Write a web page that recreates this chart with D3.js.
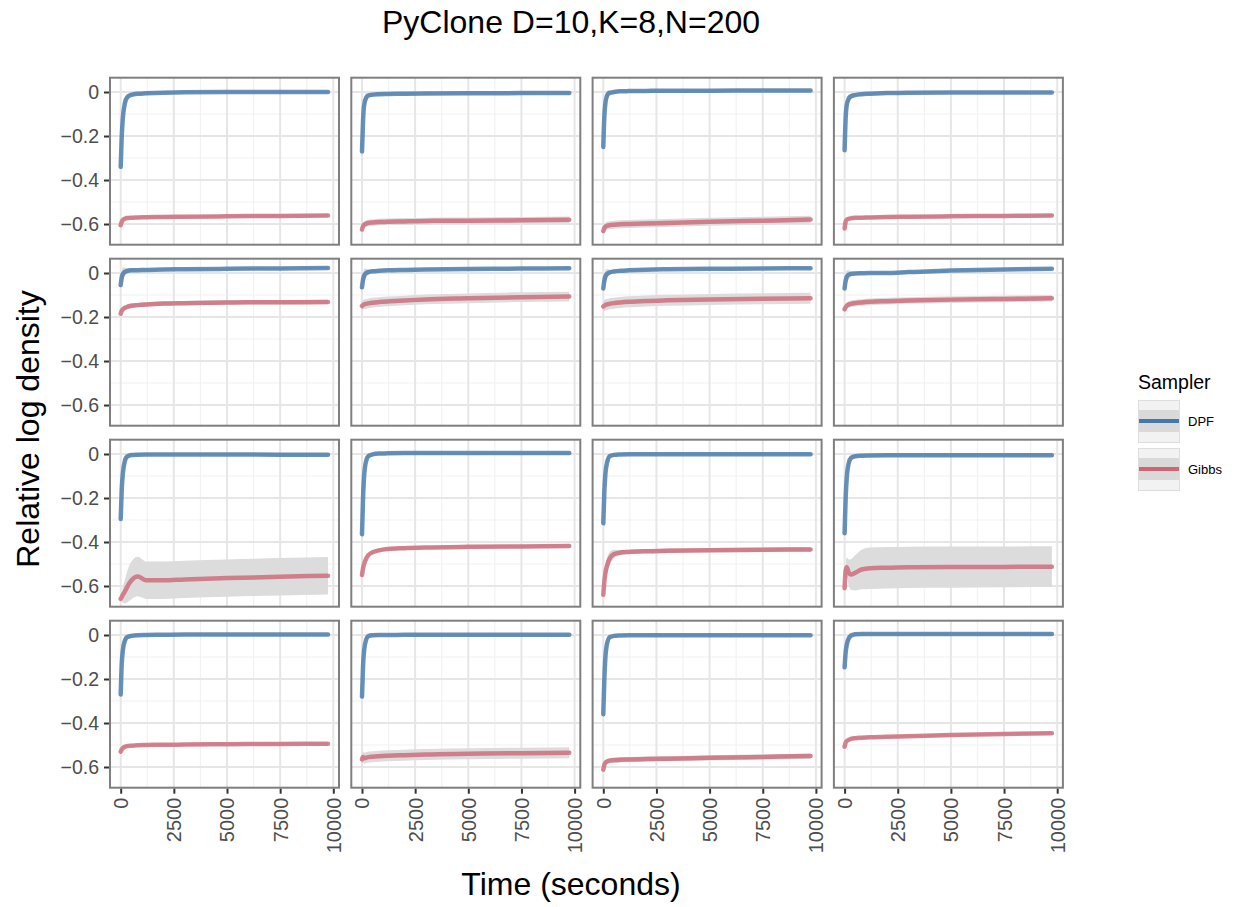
<!DOCTYPE html>
<html>
<head>
<meta charset="utf-8">
<script src="https://cdn.jsdelivr.net/npm/d3@7"></script>
<style>
  body { margin: 0; background: #fff; }
  svg { font-family: 'Liberation Sans', Arial, Helvetica, sans-serif; }
</style>
</head>
<body>
<script>
// time points (seconds) shared by every panel
const times = [0, 50, 100, 200, 300, 500, 800, 1200, 2000, 3000, 5000, 7500, 9750];

// mean relative log density, one row per panel (4x4, row-major)
const dpfMean = [
  [-0.34, -0.2, -0.12, -0.05, -0.025, -0.013, -0.008, -0.006, -0.003, -0.001, 0, 0, 0],
  [-0.27, -0.13, -0.06, -0.025, -0.016, -0.012, -0.01, -0.009, -0.008, -0.007, -0.006, -0.005, -0.004],
  [-0.25, -0.11, -0.05, -0.012, -0.004, 0, 0.003, 0.004, 0.005, 0.006, 0.006, 0.007, 0.007],
  [-0.265, -0.12, -0.06, -0.03, -0.02, -0.014, -0.01, -0.008, -0.005, -0.003, -0.002, -0.002, -0.002],
  [-0.055, -0.02, -0.005, 0.005, 0.009, 0.012, 0.013, 0.014, 0.016, 0.017, 0.019, 0.021, 0.023],
  [-0.065, -0.03, -0.012, 0, 0.004, 0.008, 0.01, 0.012, 0.014, 0.016, 0.018, 0.02, 0.022],
  [-0.07, -0.035, -0.015, -0.002, 0.003, 0.007, 0.01, 0.012, 0.015, 0.017, 0.019, 0.021, 0.022],
  [-0.07, -0.035, -0.018, -0.007, -0.004, -0.002, -0.001, 0, 0, 0.004, 0.011, 0.016, 0.019],
  [-0.295, -0.16, -0.09, -0.03, -0.012, -0.005, -0.003, -0.002, -0.002, -0.002, -0.002, -0.003, -0.003],
  [-0.365, -0.2, -0.1, -0.03, -0.01, -0.002, 0.002, 0.003, 0.004, 0.004, 0.004, 0.004, 0.004],
  [-0.315, -0.17, -0.09, -0.03, -0.01, -0.004, -0.002, -0.001, -0.001, -0.001, -0.001, -0.001, -0.001],
  [-0.36, -0.2, -0.11, -0.04, -0.018, -0.01, -0.008, -0.007, -0.006, -0.006, -0.006, -0.006, -0.006],
  [-0.27, -0.13, -0.07, -0.025, -0.01, -0.004, -0.001, 0, 0.001, 0.002, 0.002, 0.002, 0.002],
  [-0.28, -0.14, -0.07, -0.02, -0.005, -0.001, 0, 0, 0.001, 0.001, 0.001, 0.001, 0.001],
  [-0.36, -0.2, -0.1, -0.03, -0.01, -0.004, -0.002, -0.001, -0.001, -0.001, -0.001, -0.001, -0.001],
  [-0.147, -0.08, -0.045, -0.015, -0.003, 0.003, 0.005, 0.005, 0.005, 0.005, 0.005, 0.005, 0.005],
];

const gibbsMean = [
  [-0.605, -0.59, -0.582, -0.576, -0.573, -0.571, -0.57, -0.569, -0.568, -0.567, -0.565, -0.563, -0.561],
  [-0.625, -0.61, -0.603, -0.598, -0.595, -0.593, -0.591, -0.59, -0.588, -0.586, -0.585, -0.583, -0.581],
  [-0.632, -0.618, -0.612, -0.607, -0.605, -0.603, -0.601, -0.6, -0.598, -0.595, -0.59, -0.585, -0.58],
  [-0.62, -0.59, -0.58, -0.576, -0.574, -0.572, -0.571, -0.57, -0.568, -0.567, -0.565, -0.563, -0.561],
  [-0.185, -0.172, -0.165, -0.158, -0.154, -0.149, -0.146, -0.143, -0.139, -0.137, -0.134, -0.133, -0.132],
  [-0.15, -0.145, -0.142, -0.14, -0.138, -0.135, -0.132, -0.129, -0.125, -0.12, -0.115, -0.11, -0.107],
  [-0.152, -0.148, -0.145, -0.142, -0.14, -0.137, -0.134, -0.131, -0.127, -0.124, -0.12, -0.117, -0.115],
  [-0.165, -0.155, -0.149, -0.143, -0.14, -0.137, -0.134, -0.131, -0.128, -0.125, -0.121, -0.118, -0.115],
  [-0.658, -0.65, -0.64, -0.625, -0.605, -0.575, -0.557, -0.574, -0.574, -0.57, -0.564, -0.558, -0.553],
  [-0.55, -0.52, -0.5, -0.475, -0.46, -0.447, -0.438, -0.432, -0.428, -0.425, -0.422, -0.42, -0.418],
  [-0.64, -0.58, -0.54, -0.5, -0.475, -0.455, -0.448, -0.445, -0.442, -0.44, -0.437, -0.435, -0.434],
  [-0.61, -0.53, -0.515, -0.54, -0.548, -0.54, -0.525, -0.519, -0.517, -0.515, -0.514, -0.513, -0.512],
  [-0.53, -0.52, -0.514, -0.508, -0.505, -0.503, -0.501, -0.5, -0.499, -0.498, -0.496, -0.495, -0.494],
  [-0.565, -0.555, -0.56, -0.557, -0.555, -0.553, -0.551, -0.549, -0.546, -0.543, -0.54, -0.537, -0.535],
  [-0.612, -0.59, -0.58, -0.574, -0.571, -0.569, -0.567, -0.566, -0.564, -0.562, -0.558, -0.554, -0.55],
  [-0.508, -0.49, -0.482, -0.476, -0.472, -0.469, -0.467, -0.465, -0.463, -0.46, -0.455, -0.45, -0.446],
];

// half-width of the grey band around each Gibbs mean
const gibbsSpread = [
  [0.006, 0.007, 0.007, 0.007, 0.007, 0.007, 0.007, 0.007, 0.007, 0.007, 0.007, 0.007, 0.007],
  [0.01, 0.015, 0.015, 0.015, 0.015, 0.015, 0.015, 0.015, 0.015, 0.015, 0.015, 0.015, 0.015],
  [0.01, 0.018, 0.018, 0.018, 0.018, 0.018, 0.018, 0.018, 0.018, 0.018, 0.018, 0.018, 0.018],
  [0.006, 0.007, 0.007, 0.007, 0.007, 0.007, 0.007, 0.007, 0.007, 0.007, 0.007, 0.007, 0.007],
  [0.008, 0.01, 0.01, 0.01, 0.01, 0.01, 0.01, 0.01, 0.01, 0.01, 0.01, 0.01, 0.01],
  [0.02, 0.022, 0.022, 0.022, 0.022, 0.022, 0.022, 0.022, 0.022, 0.022, 0.022, 0.022, 0.022],
  [0.02, 0.025, 0.025, 0.025, 0.025, 0.025, 0.025, 0.025, 0.025, 0.025, 0.025, 0.025, 0.025],
  [0.012, 0.015, 0.015, 0.015, 0.015, 0.015, 0.015, 0.015, 0.015, 0.015, 0.015, 0.015, 0.015],
  [0.008, 0.02, 0.035, 0.055, 0.07, 0.085, 0.09, 0.085, 0.085, 0.085, 0.085, 0.085, 0.085],
  [0.008, 0.008, 0.008, 0.008, 0.008, 0.008, 0.008, 0.008, 0.008, 0.008, 0.008, 0.008, 0.008],
  [0.01, 0.03, 0.035, 0.035, 0.03, 0.02, 0.012, 0.01, 0.01, 0.01, 0.01, 0.01, 0.01],
  [0.01, 0.03, 0.045, 0.06, 0.07, 0.08, 0.09, 0.094, 0.094, 0.094, 0.094, 0.093, 0.093],
  [0.006, 0.006, 0.006, 0.006, 0.006, 0.006, 0.006, 0.006, 0.006, 0.006, 0.006, 0.006, 0.006],
  [0.025, 0.025, 0.025, 0.025, 0.025, 0.025, 0.025, 0.025, 0.025, 0.025, 0.025, 0.025, 0.025],
  [0.012, 0.012, 0.012, 0.012, 0.012, 0.012, 0.012, 0.012, 0.012, 0.012, 0.012, 0.012, 0.012],
  [0.006, 0.006, 0.006, 0.006, 0.006, 0.006, 0.006, 0.006, 0.006, 0.006, 0.006, 0.006, 0.006],
];

// half-width of the grey band around DPF (same shape in every panel)
const dpfSpread = [0.005, 0.025, 0.03, 0.02, 0.012, 0.008, 0.006, 0.005, 0.005, 0.005, 0.005, 0.005, 0.005];

const samplers = ['DPF', 'Gibbs'];
const xTicks = [0, 2500, 5000, 7500, 10000];
const xMinor = [1250, 3750, 6250, 8750];
const yTicks = [0, -0.2, -0.4, -0.6];
const yMinor = [-0.1, -0.3, -0.5];

const colors = { DPF: '#4477AA', Gibbs: '#CC6677' };

const PANEL_W = 229;
const PANEL_H = 167;
const PANEL_LEFT = 110;
const PANEL_TOP = 77.7;
const STEP_X = 241.3;
const STEP_Y = 181;

const svg = d3
  .select('body')
  .append('svg')
  .attr('width', 1244)
  .attr('height', 907);

const x = d3.scaleLinear().domain([-503, 10268]).range([0, PANEL_W]);
const y = d3.scaleLinear().domain([-0.694, 0.065]).range([PANEL_H, 0]);

const line = d3
  .line()
  .x((d, i) => x(times[i]))
  .y(d => y(d))
  .curve(d3.curveMonotoneX);

const band = d3
  .area()
  .x(d => x(d.t))
  .y0(d => y(d.lo))
  .y1(d => y(d.hi))
  .curve(d3.curveMonotoneX);

function bandData(mean, spread) {
  return times.map((t, i) => ({ t, lo: mean[i] - spread[i], hi: mean[i] + spread[i] }));
}

const fmtY = d => (d === 0 ? '0' : d3.format('.1f')(d));

d3.range(16).forEach(p => {
  const row = Math.floor(p / 4);
  const col = p % 4;
  const g = svg
    .append('g')
    .attr('transform', `translate(${PANEL_LEFT + col * STEP_X},${PANEL_TOP + row * STEP_Y})`);

  g.append('clipPath')
    .attr('id', `clip${p}`)
    .append('rect')
    .attr('width', PANEL_W)
    .attr('height', PANEL_H);

  // minor grid
  g.selectAll('.vminor')
    .data(xMinor)
    .enter()
    .append('line')
    .attr('x1', d => x(d))
    .attr('x2', d => x(d))
    .attr('y1', 0)
    .attr('y2', PANEL_H)
    .attr('stroke', '#f2f2f2')
    .attr('stroke-width', 1.2);
  g.selectAll('.hminor')
    .data(yMinor)
    .enter()
    .append('line')
    .attr('x1', 0)
    .attr('x2', PANEL_W)
    .attr('y1', d => y(d))
    .attr('y2', d => y(d))
    .attr('stroke', '#f2f2f2')
    .attr('stroke-width', 1.2);

  // major grid
  g.selectAll('.vmajor')
    .data(xTicks)
    .enter()
    .append('line')
    .attr('x1', d => x(d))
    .attr('x2', d => x(d))
    .attr('y1', 0)
    .attr('y2', PANEL_H)
    .attr('stroke', '#e6e6e6')
    .attr('stroke-width', 2);
  g.selectAll('.hmajor')
    .data(yTicks)
    .enter()
    .append('line')
    .attr('x1', 0)
    .attr('x2', PANEL_W)
    .attr('y1', d => y(d))
    .attr('y2', d => y(d))
    .attr('stroke', '#e6e6e6')
    .attr('stroke-width', 2);

  const plot = g.append('g').attr('clip-path', `url(#clip${p})`);

  plot.append('path')
    .attr('d', band(bandData(dpfMean[p], dpfSpread)))
    .attr('fill', '#dcdcdc');
  plot.append('path')
    .attr('d', band(bandData(gibbsMean[p], gibbsSpread[p])))
    .attr('fill', '#dcdcdc');

  [['DPF', dpfMean[p]], ['Gibbs', gibbsMean[p]]].forEach(([name, vals]) => {
    plot.append('path')
      .attr('d', line(vals))
      .attr('fill', 'none')
      .attr('stroke', colors[name])
      .attr('stroke-opacity', 0.8)
      .attr('stroke-width', 4.5)
      .attr('stroke-linecap', 'round')
      .attr('stroke-linejoin', 'round');
  });

  // panel border
  g.append('rect')
    .attr('width', PANEL_W)
    .attr('height', PANEL_H)
    .attr('fill', 'none')
    .attr('stroke', '#7f7f7f')
    .attr('stroke-width', 2);

  if (col === 0) {
    const ay = g.append('g')
      .attr('transform', 'translate(-1,0)')
      .call(d3.axisLeft(y).tickValues(yTicks).tickSize(5).tickPadding(5).tickFormat(fmtY));
    ay.select('.domain').remove();
    ay.selectAll('line').attr('stroke', '#333').attr('stroke-width', 2);
    ay.selectAll('text')
      .attr('fill', '#4d4d4d')
      .style('font-size', '19.5px');
  }

  if (row === 3) {
    const ax = g.append('g')
      .attr('transform', `translate(0,${PANEL_H + 1})`)
      .call(d3.axisBottom(x).tickValues(xTicks).tickSize(5).tickFormat(d3.format('d')));
    ax.select('.domain').remove();
    ax.selectAll('line').attr('stroke', '#333').attr('stroke-width', 2);
    ax.selectAll('text')
      .attr('transform', 'rotate(-90)')
      .attr('x', -9)
      .attr('y', 0)
      .attr('dy', '0.35em')
      .attr('text-anchor', 'end')
      .attr('fill', '#4d4d4d')
      .style('font-size', '20px');
  }
});

// titles
svg.append('text')
  .attr('x', 571)
  .attr('y', 33)
  .attr('text-anchor', 'middle')
  .style('font-size', '32px')
  .text('PyClone D=10,K=8,N=200');

svg.append('text')
  .attr('x', 571)
  .attr('y', 895)
  .attr('text-anchor', 'middle')
  .style('font-size', '32px')
  .text('Time (seconds)');

svg.append('text')
  .attr('transform', 'translate(39,429) rotate(-90)')
  .attr('text-anchor', 'middle')
  .style('font-size', '32px')
  .text('Relative log density');

// legend
const legend = svg.append('g').attr('transform', 'translate(1138,0)');
legend.append('text')
  .attr('x', 0)
  .attr('y', 389)
  .style('font-size', '19.5px')
  .text('Sampler');

samplers.forEach((s, i) => {
  const ky = 400 + i * 48;
  legend.append('rect')
    .attr('x', 0.5)
    .attr('y', ky + 0.5)
    .attr('width', 41)
    .attr('height', 42)
    .attr('fill', '#f2f2f2')
    .attr('stroke', '#dedede');
  legend.append('rect')
    .attr('x', 1)
    .attr('y', ky + 10)
    .attr('width', 40)
    .attr('height', 22)
    .attr('fill', '#d9d9d9');
  legend.append('line')
    .attr('x1', 1)
    .attr('x2', 41)
    .attr('y1', ky + 21)
    .attr('y2', ky + 21)
    .attr('stroke', colors[s])
    .attr('stroke-width', 4);
  legend.append('text')
    .attr('x', 50)
    .attr('y', ky + 26)
    .style('font-size', '13px')
    .text(s);
});
</script>
</body>
</html>
